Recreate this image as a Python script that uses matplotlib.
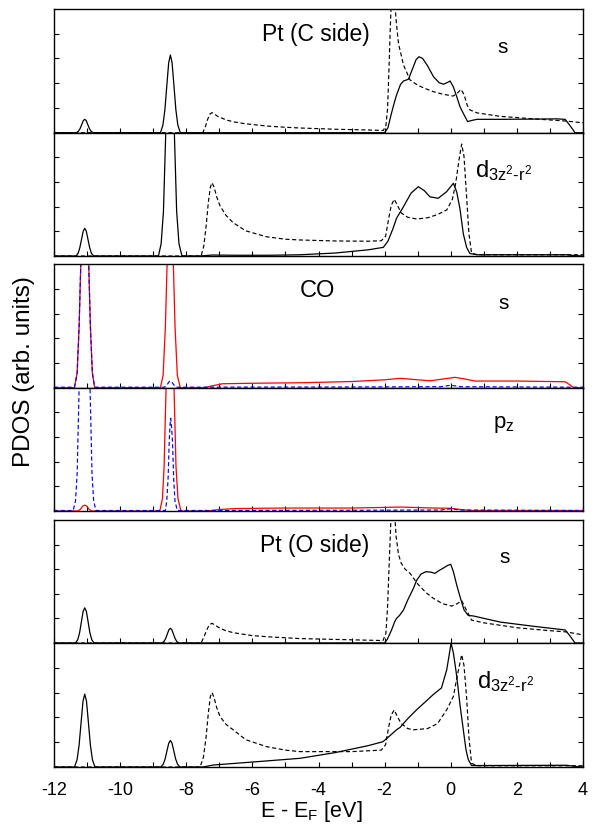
import numpy as np
import matplotlib
matplotlib.use("Agg")
import matplotlib.pyplot as plt

plt.rcParams['font.family'] = ['Liberation Sans', 'DejaVu Sans']
plt.rcParams['mathtext.fontset'] = 'custom'
plt.rcParams['mathtext.rm'] = 'Liberation Sans'
plt.rcParams['mathtext.it'] = 'Liberation Sans:italic'
plt.rcParams['axes.unicode_minus'] = False

# ---- Pt (C side) ----
ptc_s_solid = [(-12, 0), (-11.33, 0), (-11.265, 0.054), (-11.213, 0.16), (-11.161, 0.33), (-11.114, 0.49),
               (-11.07, 0.54), (-11.026, 0.49), (-10.979, 0.33), (-10.927, 0.16), (-10.875, 0.054), (-10.81, 0),
               (-8.78, 0), (-8.705, 0.31), (-8.645, 0.94), (-8.585, 1.95), (-8.531, 2.83), (-8.48, 3.14),
               (-8.429, 2.83), (-8.375, 1.95), (-8.315, 0.94), (-8.255, 0.31), (-8.18, 0),
               (-2.0, 0), (-1.9, 0.2), (-1.8, 0.75), (-1.7, 1.25), (-1.64, 1.52), (-1.52, 1.95), (-1.43, 2.09),
               (-1.28, 2.16), (-1.15, 2.6), (-1.05, 2.95), (-0.96, 3.07), (-0.85, 3.0), (-0.7, 2.7),
               (-0.52, 2.26), (-0.35, 2.02), (-0.22, 1.96), (-0.1, 2.03), (-0.02, 2.09), (0.08, 1.85),
               (0.18, 1.46), (0.28, 1.05), (0.38, 0.78), (0.51, 0.45), (0.65, 0.5), (0.79, 0.54),
               (1.5, 0.54), (2.5, 0.55), (3.2, 0.56), (3.46, 0.54), (3.6, 0.3), (3.76, 0), (4.0, 0)]
ptc_s_dashed = [(-12, 0), (-7.5, 0), (-7.42, 0.25), (-7.35, 0.55), (-7.28, 0.76), (-7.22, 0.81), (-7.15, 0.76),
                (-7.05, 0.66), (-6.98, 0.62), (-6.8, 0.52), (-6.58, 0.44), (-6.2, 0.36), (-5.57, 0.27),
                (-5.0, 0.22), (-4.56, 0.19), (-3.5, 0.14), (-2.5, 0.11), (-2.04, 0.09), (-1.96, 0.3),
                (-1.91, 1.0), (-1.87, 2.5), (-1.83, 4.2), (-1.79, 5.6), (-1.75, 6.1), (-1.71, 5.6),
                (-1.65, 4.5), (-1.58, 3.6), (-1.43, 2.74), (-1.23, 2.13), (-1.0, 1.92), (-0.8, 1.8),
                (-0.53, 1.66), (-0.25, 1.56), (0.07, 1.48), (0.2, 1.6), (0.31, 1.75), (0.4, 1.55),
                (0.5, 1.1), (0.58, 0.92), (0.8, 0.8), (1.5, 0.66), (2.5, 0.56), (3.5, 0.47), (4.0, 0.4)]
ptc_d_solid = [(-12, 0), (-11.34, 0), (-11.27, 0.11), (-11.219, 0.34), (-11.165, 0.69), (-11.116, 1.01),
               (-11.07, 1.12), (-11.024, 1.01), (-10.975, 0.69), (-10.921, 0.34), (-10.87, 0.11), (-10.80, 0),
               (-8.84, 0), (-8.76, 0.5), (-8.69, 1.8), (-8.62, 5.0), (-8.56, 9.0), (-8.49, 11.0),
               (-8.42, 9.0), (-8.36, 5.0), (-8.29, 1.8), (-8.22, 0.5), (-8.13, 0),
               (-7.6, 0), (-7.2, 0.04), (-6.5, 0.03), (-5.5, 0.03), (-4.56, 0.05), (-3.5, 0.12),
               (-2.5, 0.25), (-2.04, 0.35), (-1.9, 0.6), (-1.75, 1.1), (-1.64, 1.53), (-1.43, 2.0),
               (-1.2, 2.55), (-0.98, 2.81), (-0.8, 2.65), (-0.63, 2.4), (-0.38, 2.34), (-0.13, 2.6),
               (0.08, 2.95), (0.18, 2.6), (0.28, 1.9), (0.38, 0.9), (0.48, 0.35), (0.58, 0.1),
               (0.8, 0.05), (3.5, 0.05), (3.7, 0.02), (4.0, 0)]
ptc_d_dashed = [(-12, 0), (-7.55, 0), (-7.47, 0.4), (-7.4, 1.2), (-7.33, 2.2), (-7.27, 2.8), (-7.22, 2.97),
                (-7.16, 2.8), (-7.08, 2.4), (-6.98, 2.04), (-6.8, 1.65), (-6.58, 1.35), (-6.2, 1.02),
                (-5.57, 0.78), (-5.0, 0.68), (-4.56, 0.65), (-3.5, 0.61), (-2.5, 0.6), (-2.1, 0.62),
                (-1.97, 0.8), (-1.88, 1.5), (-1.8, 2.05), (-1.71, 2.3), (-1.63, 2.1), (-1.5, 1.75),
                (-1.3, 1.57), (-1.03, 1.5), (-0.7, 1.55), (-0.4, 1.68), (-0.12, 1.87), (0.05, 2.3),
                (0.15, 2.95), (0.25, 3.9), (0.33, 4.54), (0.4, 4.05), (0.47, 2.6), (0.55, 0.9),
                (0.63, 0.12), (0.8, 0.05), (4.0, 0.05)]

# ---- CO (C red solid, O blue dashed) ----
co_s_red = [(-12, 0), (-11.38, 0), (-11.3, 0.6), (-11.24, 2.5), (-11.18, 5.5), (-11.12, 8.0), (-11.07, 9.0),
            (-11.02, 8.0), (-10.96, 5.5), (-10.9, 2.5), (-10.84, 0.6), (-10.77, 0),
            (-8.78, 0), (-8.7, 0.5), (-8.63, 2.5), (-8.57, 5.5), (-8.52, 9.0), (-8.485, 10.0),
            (-8.45, 9.0), (-8.40, 5.5), (-8.34, 2.5), (-8.27, 0.5), (-8.18, 0),
            (-7.45, 0), (-7.2, 0.08), (-6.9, 0.16), (-6.0, 0.18), (-4.56, 0.2), (-3.0, 0.25),
            (-2.0, 0.32), (-1.53, 0.38), (-1.0, 0.32), (-0.62, 0.28), (-0.3, 0.34), (0.13, 0.42),
            (0.4, 0.36), (0.73, 0.27), (2.0, 0.27), (3.46, 0.24), (3.6, 0.12), (3.72, 0), (4.0, 0)]
co_s_blue = [(-12, 0.02), (-11.38, 0.02), (-11.3, 0.6), (-11.24, 2.5), (-11.18, 5.5), (-11.12, 8.0),
             (-11.07, 9.0), (-11.02, 8.0), (-10.96, 5.5), (-10.9, 2.5), (-10.84, 0.6), (-10.77, 0.02),
             (-8.66, 0.02), (-8.58, 0.12), (-8.52, 0.24), (-8.48, 0.27), (-8.44, 0.24), (-8.38, 0.12),
             (-8.3, 0.02), (-3.0, 0.03), (-0.3, 0.04), (0.0, 0.1), (0.3, 0.04), (4.0, 0.02)]
co_p_red = [(-12, 0), (-11.28, 0), (-11.2, 0.07), (-11.13, 0.2), (-11.07, 0.24), (-11.01, 0.2), (-10.94, 0.07),
            (-10.86, 0), (-8.8, 0), (-8.72, 0.5), (-8.67, 1.8), (-8.61, 5.0), (-8.55, 9.2), (-8.49, 10.8),
            (-8.43, 9.2), (-8.37, 5.0), (-8.31, 1.8), (-8.25, 0.5), (-8.16, 0),
            (-7.35, 0), (-7.0, 0.06), (-6.5, 0.1), (-5.0, 0.12), (-3.0, 0.12), (-1.5, 0.16),
            (-0.5, 0.12), (0.0, 0.11), (0.3, 0.06), (0.6, 0.02), (4.0, 0.02)]
co_p_blue = [(-12, 0.02), (-11.42, 0.02), (-11.35, 0.4), (-11.3, 1.5), (-11.24, 5.0), (-11.18, 10.5),
             (-11.12, 16.5), (-11.07, 19.0), (-11.02, 16.5), (-10.96, 10.5), (-10.91, 5.0), (-10.85, 1.5),
             (-10.8, 0.4), (-10.73, 0.02),
             (-8.63, 0.02), (-8.59, 0.4), (-8.55, 1.3), (-8.515, 2.8), (-8.49, 3.5), (-8.47, 3.76),
             (-8.45, 3.5), (-8.415, 2.8), (-8.38, 1.3), (-8.34, 0.4), (-8.27, 0.02),
             (-3.0, 0.03), (-0.3, 0.04), (0.0, 0.09), (0.3, 0.04), (4.0, 0.02)]

# ---- Pt (O side) ----
pto_s_solid = [(-12, 0), (-11.35, 0), (-11.28, 0.14), (-11.224, 0.43), (-11.168, 0.89), (-11.118, 1.29),
               (-11.07, 1.43), (-11.022, 1.29), (-10.972, 0.89), (-10.916, 0.43), (-10.86, 0.14), (-10.79, 0),
               (-8.74, 0), (-8.675, 0.06), (-8.623, 0.18), (-8.571, 0.37), (-8.524, 0.54), (-8.48, 0.6),
               (-8.436, 0.54), (-8.389, 0.37), (-8.337, 0.18), (-8.285, 0.06), (-8.22, 0),
               (-2.0, 0), (-1.92, 0.15), (-1.85, 0.35), (-1.79, 0.53), (-1.7, 0.85), (-1.64, 1.0),
               (-1.55, 1.12), (-1.43, 1.34), (-1.3, 1.75), (-1.13, 2.22), (-1.03, 2.55), (-0.9, 2.8),
               (-0.75, 2.9), (-0.6, 2.88), (-0.48, 2.83), (-0.35, 2.95), (-0.23, 3.04), (-0.1, 3.15),
               (0.0, 3.2), (0.08, 2.9), (0.18, 2.36), (0.28, 1.88), (0.4, 1.35), (0.53, 1.12),
               (0.68, 1.1), (1.5, 0.85), (2.5, 0.68), (3.46, 0.53), (3.6, 0.3), (3.76, 0), (4.0, 0)]
pto_s_dashed = [(-12, 0), (-7.55, 0), (-7.45, 0.3), (-7.35, 0.62), (-7.28, 0.76), (-7.22, 0.8), (-7.12, 0.72),
                (-6.98, 0.6), (-6.8, 0.5), (-6.58, 0.42), (-6.0, 0.3), (-5.5, 0.25), (-4.56, 0.18),
                (-3.0, 0.13), (-2.05, 0.1), (-1.96, 0.4), (-1.91, 1.5), (-1.86, 3.3), (-1.81, 5.0),
                (-1.76, 5.9), (-1.71, 5.5), (-1.65, 4.3), (-1.58, 3.6), (-1.5, 3.25), (-1.38, 3.0),
                (-1.23, 2.83), (-1.0, 2.4), (-0.75, 2.05), (-0.53, 1.82), (-0.25, 1.6), (0.03, 1.5),
                (0.2, 1.6), (0.33, 1.72), (0.45, 1.4), (0.63, 0.93), (1.0, 0.82), (2.0, 0.62),
                (3.0, 0.5), (3.5, 0.45), (4.0, 0.33)]
pto_d_solid = [(-12, 0), (-11.38, 0), (-11.303, 0.29), (-11.241, 0.88), (-11.179, 1.82), (-11.123, 2.65),
               (-11.07, 2.94), (-11.017, 2.65), (-10.961, 1.82), (-10.899, 0.88), (-10.837, 0.29), (-10.76, 0),
               (-8.77, 0), (-8.698, 0.11), (-8.64, 0.32), (-8.582, 0.66), (-8.529, 0.96), (-8.48, 1.07),
               (-8.431, 0.96), (-8.378, 0.66), (-8.32, 0.32), (-8.262, 0.11), (-8.19, 0),
               (-7.5, 0), (-7.18, 0.08), (-6.0, 0.2), (-4.56, 0.35), (-3.5, 0.58), (-2.5, 0.86),
               (-2.05, 1.02), (-1.85, 1.25), (-1.64, 1.5), (-1.53, 1.6), (-1.3, 1.95), (-1.03, 2.31),
               (-0.75, 2.65), (-0.53, 2.92), (-0.28, 3.19), (-0.12, 3.93), (-0.05, 4.5), (0.01, 5.0),
               (0.08, 4.6), (0.18, 3.67), (0.28, 2.5), (0.38, 1.5), (0.46, 0.7), (0.53, 0.3),
               (0.63, 0.06), (1.0, 0.06), (3.5, 0.07), (3.8, 0.02), (4.0, 0)]
pto_d_dashed = [(-12, 0), (-7.58, 0), (-7.48, 0.4), (-7.4, 1.2), (-7.33, 2.2), (-7.27, 2.85), (-7.22, 3.0),
                (-7.16, 2.8), (-7.08, 2.4), (-6.98, 2.04), (-6.8, 1.72), (-6.58, 1.5), (-6.2, 1.1),
                (-5.57, 0.82), (-5.0, 0.68), (-4.56, 0.62), (-3.0, 0.62), (-2.1, 0.68), (-1.97, 0.9),
                (-1.88, 1.6), (-1.8, 2.1), (-1.71, 2.3), (-1.62, 2.05), (-1.5, 1.75), (-1.3, 1.55),
                (-1.13, 1.5), (-0.7, 1.55), (-0.4, 1.75), (-0.12, 2.31), (0.08, 2.85), (0.2, 3.7),
                (0.28, 4.2), (0.33, 4.53), (0.4, 4.1), (0.48, 2.8), (0.55, 1.2), (0.63, 0.15),
                (0.8, 0.05), (4.0, 0.05)]

W, H = 598, 827
LEFT, RIGHT = 54, 583
# (top, bottom) of each sub panel in pixels
panel_px = [(9, 132.7), (132.7, 256), (264.3, 387.7), (387.7, 511), (520, 643), (643, 767)]

curves = [
    [(ptc_s_solid, 'k', '-'), (ptc_s_dashed, 'k', '--')],
    [(ptc_d_solid, 'k', '-'), (ptc_d_dashed, 'k', '--')],
    [(co_s_red, 'red', '-'), (co_s_blue, 'blue', '--')],
    [(co_p_red, 'red', '-'), (co_p_blue, 'blue', '--')],
    [(pto_s_solid, 'k', '-'), (pto_s_dashed, 'k', '--')],
    [(pto_d_solid, 'k', '-'), (pto_d_dashed, 'k', '--')],
]

fig = plt.figure(figsize=(W / 100, H / 100), dpi=100)
axes = []
for i, (top, bot) in enumerate(panel_px):
    ax = fig.add_axes([LEFT / W, 1 - bot / H, (RIGHT - LEFT) / W, (bot - top) / H])
    for pts, col, ls in curves[i]:
        arr = np.array(pts).T
        if ls == '--':
            ax.plot(arr[0], arr[1], color=col, lw=0.85, dashes=(3.5, 2.2))
        else:
            ax.plot(arr[0], arr[1], color=col, lw=0.9)
    ax.set_xlim(-12, 4)
    ax.set_ylim(0, 5)
    ax.set_xticks(np.arange(-12, 5, 2))
    ax.set_xticks(np.arange(-11, 4, 2), minor=True)
    ax.set_yticks([1, 2, 3, 4])
    ax.set_yticklabels([])
    ax.tick_params(axis='both', which='both', direction='in', length=3.3, width=0.8,
                   top=False, right=True, labelsize=13, pad=11)
    for sp in ax.spines.values():
        sp.set_linewidth(1.0)
    if i < 5:
        ax.set_xticklabels([])
    axes.append(ax)


def label(x, y, s, size=15):
    fig.text(x / W, 1 - y / H, s, fontsize=size, ha='left', va='baseline')


dlabel = r'd$_{\mathrm{3z}^{2}\text{-}\mathrm{r}^{2}}$'
label(262, 41, 'Pt (C side)', 16.5)
label(497, 53, 's')
label(475, 177, dlabel, 17)
label(300, 297, 'CO', 17)
label(498, 309, 's')
label(493, 428, r'p$_{\mathrm{z}}$', 16)
label(260, 552, 'Pt (O side)', 16.5)
label(499, 563, 's')
label(477, 688, dlabel, 17)

fig.text(24 / W, 1 - 372 / H, 'PDOS (arb. units)', rotation=90, fontsize=17.5,
         ha='center', va='center')
fig.text(311 / W, 1 - 817 / H, r'E - E$_{\mathrm{F}}$ [eV]', fontsize=15.5, ha='center', va='baseline')

fig.savefig('out.png', dpi=100)
